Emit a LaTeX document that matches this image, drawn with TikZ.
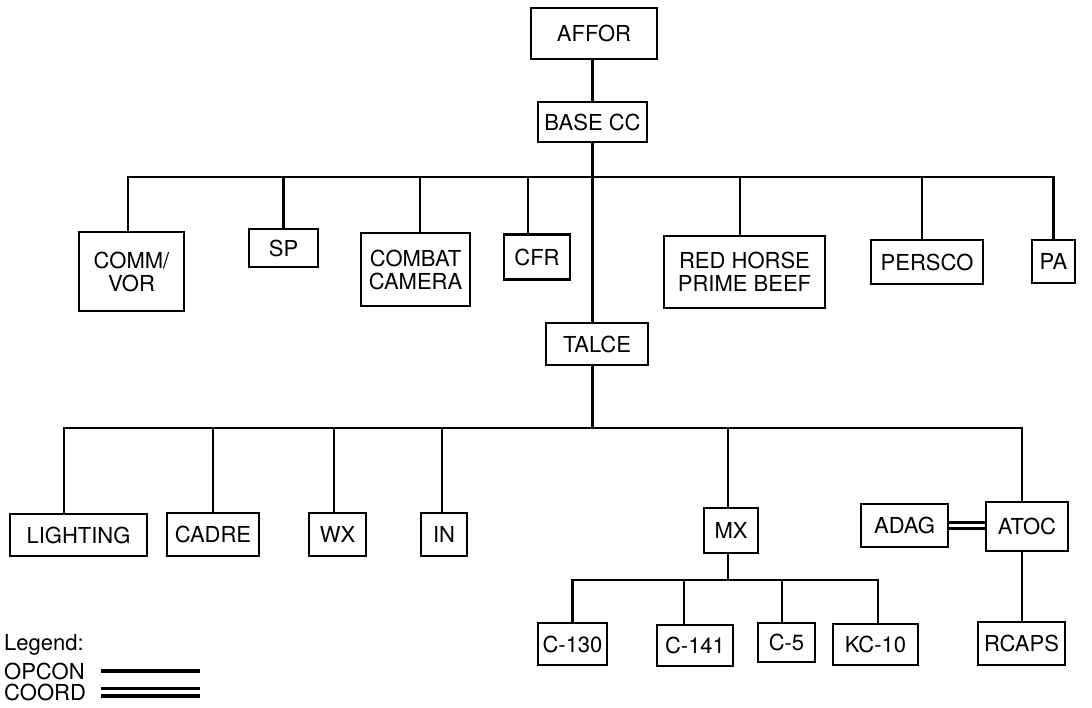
\documentclass[tikz,border=0pt]{standalone}
\usepackage{fontspec}
\setmainfont{TeX Gyre Heros}
\usetikzlibrary{calc,positioning}

\begin{document}
\begin{tikzpicture}[x=1pt, y=-1pt,
    unit/.style={draw, line width=2.8pt, inner sep=0pt, align=center, font=\fontsize{22}{23}\selectfont},
    link/.style={line width=2.8pt},
    coordlink/.style={double, line width=2.4pt, double distance=3.5pt},
    opconline/.style={line width=4.5pt},
    legtext/.style={anchor=west, inner sep=0pt, font=\fontsize{22}{23}\selectfont}]
         \useasboundingbox (0,0) rectangle (1092,708);
         %\draw[color=gray,step=10, help lines,opacity=0.3] (0,0) grid (1092,708); %help grids
         \coordinate (bar1) at (0,177);
         \coordinate (bar2) at (0,428);
         \coordinate (bar3) at (0,580);
         % Drawing the nodes
         \node[unit, minimum width=126pt, minimum height=51pt] (affor) at (594,33.5) {AFFOR};
         \node[unit, minimum width=109pt, minimum height=40pt] (basecc) at (592.5,122) {BASE CC};
         %
         \node[unit, minimum width=105pt, minimum height=79pt] (commvor) at (131.5,271.5) {COMM/\\VOR};
         \node[unit, minimum width=69pt, minimum height=38pt] (sp) at (283.5,248) {SP};
         \node[unit, minimum width=109pt, minimum height=73pt] (camera) at (415.5,269.5) {COMBAT\\CAMERA};
         \node[unit, minimum width=66pt, minimum height=45pt] (cfr) at (537,257) {CFR};
         \node[unit, minimum width=161pt, minimum height=72pt] (redhorse) at (744.5,272) {RED HORSE\\PRIME BEEF};
         \node[unit, minimum width=112pt, minimum height=44pt] (persco) at (927,262) {PERSCO};
         \node[unit, minimum width=43pt, minimum height=43pt] (pa) at (1053.5,261.5) {PA};
         %
         \node[unit, minimum width=102pt, minimum height=42pt] (talce) at (597,344) {TALCE};
         %
         \node[unit, minimum width=137pt, minimum height=42pt] (lighting) at (78.5,535) {LIGHTING};
         \node[unit, minimum width=92pt, minimum height=43pt] (cadre) at (213,534.5) {CADRE};
         \node[unit, minimum width=57pt, minimum height=43pt] (wx) at (337.5,534.5) {WX};
         \node[unit, minimum width=46pt, minimum height=43pt] (in) at (444,534.5) {IN};
         \node[unit, minimum width=54pt, minimum height=45pt] (mx) at (731,530.5) {MX};
         \node[unit, minimum width=87pt, minimum height=43pt] (adag) at (904.5,525.5) {ADAG};
         \node[unit, minimum width=82pt, minimum height=49pt] (atoc) at (1027,526.5) {ATOC};
         %
         \node[unit, minimum width=69pt, minimum height=42pt] (c130) at (572.5,644) {C-130};
         \node[unit, minimum width=76pt, minimum height=41pt] (c141) at (695,645.5) {C-141};
         \node[unit, minimum width=57pt, minimum height=39pt] (c5) at (786.5,642.5) {C-5};
         \node[unit, minimum width=85pt, minimum height=41pt] (kc10) at (875.5,644.5) {KC-10};
         \node[unit, minimum width=87pt, minimum height=43pt] (rcaps) at (1021.5,643.5) {RCAPS};
         % lines...
         \draw[link] (basecc.north) -- (basecc.north |- affor.south);
         \draw[link] (basecc.south) -- (basecc.south |- talce.north);
         \draw[link] ([xshift=-3.5pt]commvor.north) |- (bar1 -| pa.north) -- (pa.north);
         \draw[link] (sp.north) -- (sp.north |- bar1);
         \draw[link] ([xshift=4.5pt]camera.north) -- ([xshift=4.5pt]camera.north |- bar1);
         \draw[link] ([xshift=-9pt]cfr.north) -- ([xshift=-9pt]cfr.north |- bar1);
         \draw[link] ([xshift=-4.5pt]redhorse.north) -- ([xshift=-4.5pt]redhorse.north |- bar1);
         \draw[link] ([xshift=-5pt]persco.north) -- ([xshift=-5pt]persco.north |- bar1);
         %
         \draw[link] (basecc.south |- talce.south) -- (basecc.south |- bar2);
         \draw[link] ([xshift=-14.5pt]lighting.north) |- ([xshift=-5pt]atoc.north |- bar2) -- ([xshift=-5pt]atoc.north);
         \draw[link] (cadre.north) -- (cadre.north |- bar2);
         \draw[link] ([xshift=-3.5pt]wx.north) -- ([xshift=-3.5pt]wx.north |- bar2);
         \draw[link] ([xshift=-2pt]in.north) -- ([xshift=-2pt]in.north |- bar2);
         \draw[link] ([xshift=-3pt]mx.north) -- ([xshift=-3pt]mx.north |- bar2);
         \draw[coordlink] (adag.east) -- (adag.east -| atoc.west);
         \draw[link] ([xshift=-5pt]atoc.south) -- ([xshift=-5pt]atoc.south |- rcaps.north);
         %
         \draw[link] ([xshift=-3pt]mx.south) -- ([xshift=-3pt]mx.south |- bar3);
         \draw[link] (c130.north) |- ([xshift=2.5pt]kc10.north |- bar3) -- ([xshift=2.5pt]kc10.north);
         \draw[link] ([xshift=-11pt]c141.north) -- ([xshift=-11pt]c141.north |- bar3);
         \draw[link] ([xshift=-4.5pt]c5.north) -- ([xshift=-4.5pt]c5.north |- bar3);
         %% Legend:
         \node[legtext] (legend) at (4,645) {Legend:};
         \node[legtext] (opcon) at (4,671) {OPCON};
         \node[legtext] (coordtxt) at (4,692) {COORD};
         \draw[opconline] ([xshift=16pt]opcon.east) -- ++(99,0);
         \draw[coordlink, line width=3.5pt, double distance=4pt] ([xshift=15pt]coordtxt.east) -- ++(99,0);
\end{tikzpicture}
\end{document}
